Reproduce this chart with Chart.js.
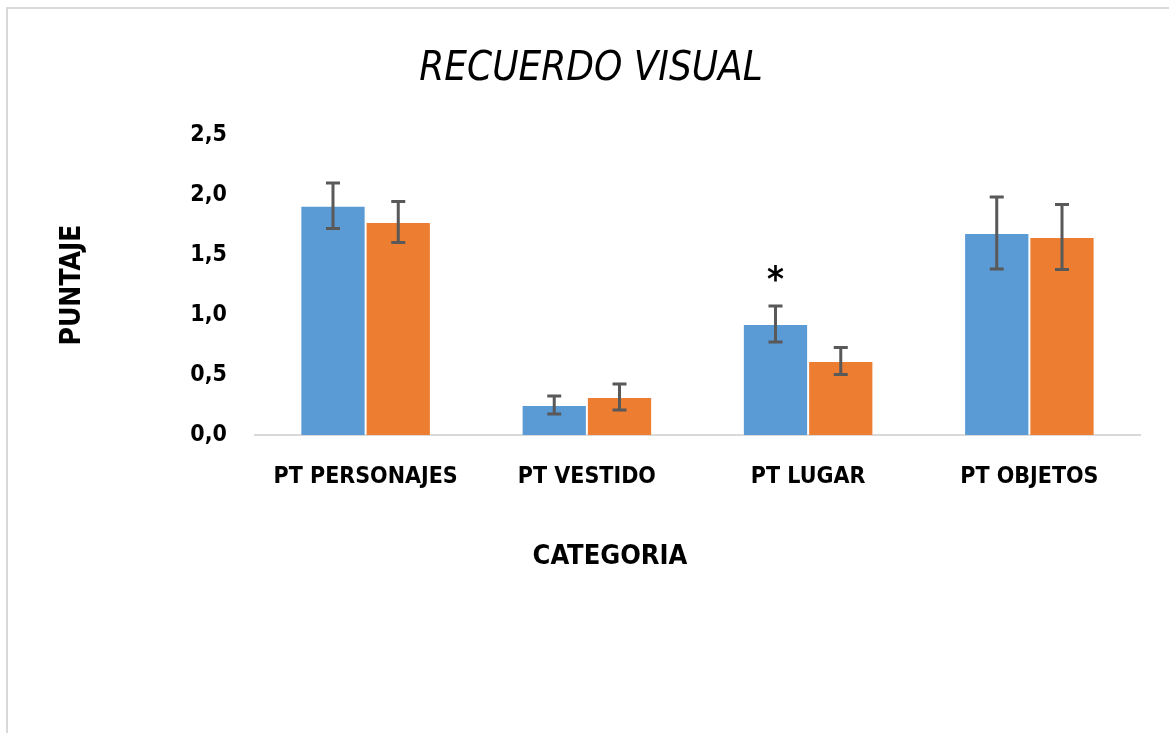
<!DOCTYPE html>
<html>
<head>
<meta charset="utf-8">
<script src="https://cdn.jsdelivr.net/npm/chart.js@4.4.1/dist/chart.umd.min.js"></script>
<style>
  html, body { margin: 0; padding: 0; background: #fff; }
  #frame {
    position: absolute; left: 6px; top: 7px; width: 1200px; height: 800px;
    border: 2px solid #d9d9d9; box-sizing: border-box;
  }
  #wrap { position: absolute; left: 0; top: 0; width: 1169px; height: 733px; }
</style>
</head>
<body>
<div id="frame"></div>
<div id="wrap"><canvas id="chart"></canvas></div>
<script>
const categories = ['PT PERSONAJES', 'PT VESTIDO', 'PT LUGAR', 'PT OBJETOS'];
const serieA = [1.91, 0.25, 0.925, 1.683];
const serieAErr = [0.19, 0.075, 0.15, 0.30];
const serieB = [1.775, 0.317, 0.617, 1.65];
const serieBErr = [0.17, 0.108, 0.112, 0.27];
const serieAMarks = ['', '', '*', ''];
const yTicks = [0, 0.5, 1, 1.5, 2, 2.5];

const condensed = "'Liberation Sans Narrow', 'DejaVu Sans Condensed', 'Open Sans', sans-serif";

// error bars + significance marks, drawn through the chart scales
const errorBars = {
    id: 'errorBars',
    afterDatasetsDraw(chart) {
        const ctx = chart.ctx;
        const y = chart.scales.y;
        ctx.save();
        chart.data.datasets.forEach((ds, i) => {
            const meta = chart.getDatasetMeta(i);
            meta.data.forEach((bar, j) => {
                const v = ds.data[j], e = ds.errors[j];
                const top = y.getPixelForValue(v + e);
                const bot = y.getPixelForValue(v - e);
                ctx.strokeStyle = '#595959';
                ctx.lineWidth = 3;
                ctx.beginPath();
                ctx.moveTo(bar.x, top); ctx.lineTo(bar.x, bot);
                ctx.moveTo(bar.x - 7, top); ctx.lineTo(bar.x + 7, top);
                ctx.moveTo(bar.x - 7, bot); ctx.lineTo(bar.x + 7, bot);
                ctx.stroke();
                if (ds.marks && ds.marks[j]) {
                    ctx.fillStyle = '#000';
                    ctx.font = "bold 36px " + condensed;
                    ctx.textAlign = 'center';
                    ctx.textBaseline = 'middle';
                    ctx.fillText(ds.marks[j], bar.x, top - 24);
                }
            });
        });
        ctx.restore();
    }
};

const chartTexts = {
    id: 'chartTexts',
    afterDraw(chart) {
        const ctx = chart.ctx;
        const area = chart.chartArea;
        ctx.save();
        ctx.fillStyle = '#000';
        ctx.textAlign = 'center';
        ctx.textBaseline = 'middle';
        ctx.font = "italic 40px " + condensed;
        ctx.fillText('RECUERDO VISUAL', 591, 70);
        ctx.font = "bold 27px " + condensed;
        ctx.fillText('CATEGORIA', 610, 557);
        ctx.translate(73, (area.top + area.bottom) / 2);
        ctx.rotate(-Math.PI / 2);
        ctx.font = "bold 28px " + condensed;
        ctx.fillText('PUNTAJE', 0, 0);
        ctx.restore();
    }
};

new Chart(document.getElementById('chart'), {
    type: 'bar',
    data: {
        labels: categories,
        datasets: [
            { label: 'A', data: serieA, errors: serieAErr, marks: serieAMarks,
              backgroundColor: '#5b9bd5', borderColor: 'rgba(255,255,255,0.45)', borderWidth: 1 },
            { label: 'B', data: serieB, errors: serieBErr,
              backgroundColor: '#ed7d31', borderColor: 'rgba(255,255,255,0.45)', borderWidth: 1 }
        ]
    },
    options: {
        responsive: true,
        maintainAspectRatio: false,
        animation: false,
        categoryPercentage: 0.59,
        barPercentage: 1.0,
        layout: { padding: { top: 135, right: 29, bottom: 0, left: 0 } },
        plugins: {
            legend: { display: false },
            tooltip: { enabled: false },
            title: { display: false }
        },
        scales: {
            x: {
                grid: { display: false, drawTicks: false },
                border: { display: true, color: '#d9d9d9', width: 2 },
                ticks: { color: '#000', padding: 28, font: { family: condensed, size: 23, weight: 'bold' } },
                afterFit(scale) { scale.height = 298; }
            },
            y: {
                min: 0, max: 2.5,
                afterBuildTicks(scale) { scale.ticks = yTicks.map(v => ({ value: v })); },
                grid: { display: false, drawTicks: false },
                border: { display: false },
                ticks: {
                    color: '#000', padding: 28,
                    font: { family: condensed, size: 23, weight: 'bold' },
                    callback: v => v.toFixed(1).replace('.', ',')
                },
                afterFit(scale) { scale.width = 255; }
            }
        }
    },
    plugins: [errorBars, chartTexts]
});
</script>
</body>
</html>
